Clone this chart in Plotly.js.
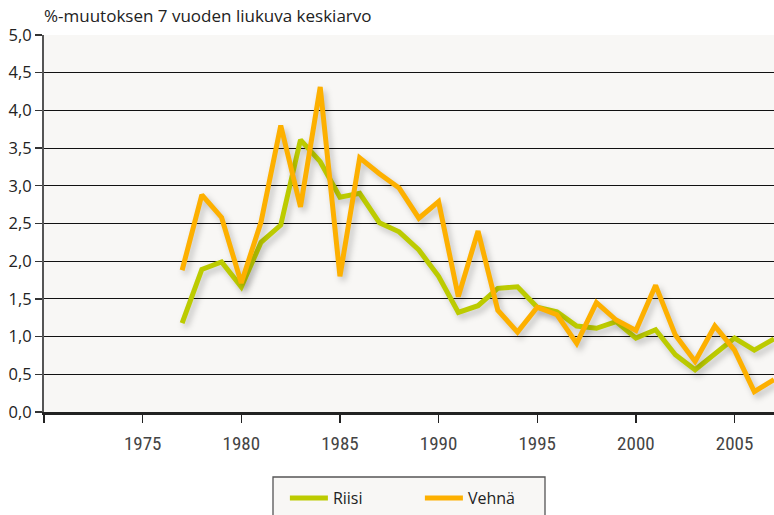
<!DOCTYPE html>
<html>
<head>
<meta charset="utf-8">
<script src="https://cdn.plot.ly/plotly-3.0.1.min.js"></script>
<style>
  html, body { margin: 0; padding: 0; background: #ffffff; }
  #chart { width: 774px; height: 515px; }
  .scatterlayer .js-line { filter: drop-shadow(3px 4px 3px rgba(0,0,0,0.22)); }
</style>
</head>
<body>
<div id="chart"></div>
<script>
const years = [1977,1978,1979,1980,1981,1982,1983,1984,1985,1986,1987,1988,1989,1990,1991,1992,1993,1994,1995,1996,1997,1998,1999,2000,2001,2002,2003,2004,2005,2006,2007];
const riisi = [1.18,1.89,1.99,1.66,2.25,2.48,3.61,3.32,2.85,2.90,2.51,2.39,2.15,1.80,1.32,1.41,1.64,1.66,1.39,1.33,1.14,1.11,1.20,0.98,1.09,0.76,0.56,0.76,0.98,0.82,0.97];
const vehna = [1.88,2.88,2.58,1.71,2.52,3.80,2.72,4.31,1.80,3.37,3.16,2.97,2.57,2.79,1.53,2.40,1.35,1.06,1.39,1.29,0.91,1.45,1.22,1.08,1.68,1.02,0.67,1.14,0.82,0.27,0.43];
const xTickVals = [1970,1975,1980,1985,1990,1995,2000,2005];
const xTickText = ['','1975','1980','1985','1990','1995','2000','2005'];
const yTickVals = [0,0.5,1,1.5,2,2.5,3,3.5,4,4.5,5];

const traces = [
  {x: years, y: riisi, name: 'Riisi', type: 'scatter', mode: 'lines',
   line: {color: '#bccb00', width: 5, shape: 'linear'}},
  {x: years, y: vehna, name: 'Vehnä', type: 'scatter', mode: 'lines',
   line: {color: '#fdb000', width: 5, shape: 'linear'}}
];

const layout = {
  width: 774, height: 515,
  margin: {l: 44, r: 0, t: 35, b: 103},
  paper_bgcolor: '#ffffff',
  plot_bgcolor: '#f8f7f5',
  separators: ', ',
  font: {family: 'Open Sans, sans-serif', color: '#222222'},
  title: {
    text: '%-muutoksen 7 vuoden liukuva keskiarvo',
    x: 0, xref: 'paper', xanchor: 'left',
    y: 0.969, yref: 'container', yanchor: 'middle',
    font: {family: 'Open Sans, sans-serif', size: 17, color: '#222222'}
  },
  xaxis: {
    range: [1970, 2007],
    tickmode: 'array', tickvals: xTickVals, ticktext: xTickText,
    ticks: 'outside', ticklen: 8, tickwidth: 1.3, tickcolor: '#222',
    showgrid: false, zeroline: false,
    showline: true, linecolor: '#222', linewidth: 2.5,
    ticklabelstandoff: 5,
    tickfont: {family: 'Liberation Sans Narrow, Arial Narrow, Roboto Condensed, sans-serif', size: 19, color: '#444'},
    fixedrange: true
  },
  yaxis: {
    range: [0, 5],
    tickmode: 'array', tickvals: yTickVals, tickformat: '.1f',
    ticks: 'outside', ticklen: 7, tickwidth: 1.3, tickcolor: '#333',
    showgrid: true, gridcolor: '#111111', gridwidth: 1.2,
    zeroline: false,
    showline: true, linecolor: '#555', linewidth: 2,
    tickfont: {family: 'Open Sans, sans-serif', size: 16.5, color: '#222'},
    fixedrange: true
  },
  shapes: [
    {type: 'rect', xref: 'paper', yref: 'paper', layer: 'below',
     x0: 0.3137, x1: 0.6863, y0: -0.1724, y1: -0.32,
     line: {color: '#555555', width: 1.3}, fillcolor: '#f8f7f5'}
  ],
  showlegend: true,
  legend: {
    orientation: 'h',
    x: 0.330, xanchor: 'left',
    y: -0.183, yanchor: 'top',
    bgcolor: 'rgba(0,0,0,0)', borderwidth: 0,
    font: {family: 'Open Sans, sans-serif', size: 16, color: '#222'},
    itemwidth: 38,
    entrywidth: 82, entrywidthmode: 'pixels',
    traceorder: 'normal'
  }
};

Plotly.newPlot('chart', traces, layout, {displayModeBar: false, staticPlot: true});
</script>
</body>
</html>
